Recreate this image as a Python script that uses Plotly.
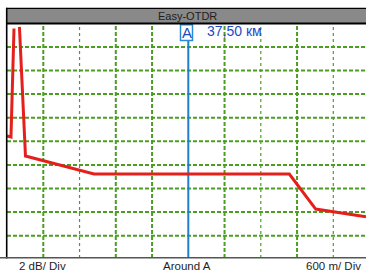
import plotly.graph_objects as go

# ---- data (OTDR trace) ----
title_text = "Easy-OTDR"
marker_name = "A"
marker_km = 37.50
marker_label = "37,50 км"
scale_y_label = "2 dB/ Div"
center_label = "Around A"
scale_x_label = "600 m/ Div"
db_per_div = 2.0
km_per_div = 0.6

trace_km = [34.499, 34.565, 34.615, None, 34.705, 34.805, 35.939, 39.172, 39.609, 40.441]
trace_db = [10.45, 10.36, 19.56, None, 19.7, 8.75, 7.23, 7.23, 4.26, 3.61]

# ---- layout helpers (pixel geometry) ----
W, H = 366, 272
L, R, T, B = 7, 0, 24, 14
pw, ph = W - L - R, H - T - B
div_px_x = 36.25
div_px_y = 23.6
x0_px = 7.05           # pixel of left division 0
ybase_px = 259.3       # pixel of 0 dB
left_div_km = marker_km - 5 * km_per_div

def px2km(px):
    return left_div_km + (px - x0_px) / div_px_x * km_per_div

def py2db(py):
    return (ybase_px - py) / div_px_y * db_per_div

def pxp(px):
    return (px - L) / pw

def pyp(py):
    return (H - B - py) / ph

green = "#4c9e22"
shapes = []
# horizontal grid
for k in range(1, 10):
    yv = k * db_per_div
    shapes.append(dict(type="line", xref="paper", yref="y", x0=0, x1=1, y0=yv, y1=yv,
                       line=dict(color=green, width=2, dash="4px,2px"), layer="below"))
# vertical grid
thin = {2, 7, 9}
for k in range(1, 10):
    if k == 5:
        continue
    xv = left_div_km + k * km_per_div
    shapes.append(dict(type="line", xref="x", yref="paper", x0=xv, x1=xv, y0=0, y1=1,
                       line=dict(color=green, width=1.2 if k in thin else 2,
                                 dash="3px,3px" if k in thin else "4px,2px"), layer="below"))

# marker line
shapes.append(dict(type="line", xref="x", yref="paper", x0=marker_km, x1=marker_km,
                   y0=pyp(257.7), y1=pyp(40), line=dict(color="#1f7fcf", width=2), layer="below"))
# marker label box
shapes.append(dict(type="rect", xref="paper", yref="paper", x0=pxp(180.5), x1=pxp(192.5),
                   y0=pyp(40.5), y1=pyp(24.8), line=dict(color="#2a8ad8", width=1.5),
                   fillcolor="white", layer="above"))

# frame: top bar
shapes.append(dict(type="rect", xref="paper", yref="paper", x0=pxp(7), x1=pxp(366),
                   y0=pyp(23), y1=pyp(8.5), line=dict(width=0), fillcolor="#898989", layer="above"))
shapes.append(dict(type="line", xref="paper", yref="paper", x0=pxp(6), x1=pxp(366),
                   y0=pyp(8.3), y1=pyp(8.3), line=dict(color="black", width=1.2), layer="above"))
shapes.append(dict(type="line", xref="paper", yref="paper", x0=pxp(6), x1=pxp(366),
                   y0=pyp(23.5), y1=pyp(23.5), line=dict(color="black", width=2), layer="above"))
# left border
shapes.append(dict(type="line", xref="paper", yref="paper", x0=pxp(6.7), x1=pxp(6.7),
                   y0=pyp(258.5), y1=pyp(7.8), line=dict(color="black", width=1.6), layer="above"))
# bottom line
shapes.append(dict(type="line", xref="paper", yref="paper", x0=pxp(0), x1=pxp(366),
                   y0=pyp(257.7), y1=pyp(257.7), line=dict(color="#555555", width=1.5), layer="above"))

fnt = "Liberation Sans, Arial, sans-serif"
ann = []
ann.append(dict(text=title_text, xref="paper", yref="paper", x=pxp(187), y=pyp(16),
                xanchor="center", yanchor="middle", showarrow=False,
                font=dict(family=fnt, size=11, color="#1e1e1e")))
ann.append(dict(text=marker_name, xref="paper", yref="paper", x=pxp(186.6), y=pyp(32.5),
                xanchor="center", yanchor="middle", showarrow=False,
                font=dict(family=fnt, size=15, color="#1d4fb8")))
ann.append(dict(text=marker_label, xref="paper", yref="paper", x=pxp(204.5), y=pyp(31),
                xanchor="left", yanchor="middle", showarrow=False,
                font=dict(family=fnt, size=14, color="#1f48c4")))
ann.append(dict(text=scale_y_label, xref="paper", yref="paper", x=pxp(16.5), y=pyp(265.5),
                xanchor="left", yanchor="middle", showarrow=False,
                font=dict(family=fnt, size=11.5, color="#1e1e1e")))
ann.append(dict(text=center_label, xref="paper", yref="paper", x=pxp(187), y=pyp(265.5),
                xanchor="center", yanchor="middle", showarrow=False,
                font=dict(family=fnt, size=11.5, color="#1e1e1e")))
ann.append(dict(text=scale_x_label, xref="paper", yref="paper", x=pxp(363), y=pyp(265.5),
                xanchor="right", yanchor="middle", showarrow=False,
                font=dict(family=fnt, size=11.5, color="#1e1e1e")))

fig = go.Figure()
fig.add_trace(go.Scatter(x=trace_km, y=trace_db, mode="lines",
                         line=dict(color="#e4201c", width=3), connectgaps=False,
                         hoverinfo="skip", showlegend=False))

fig.update_layout(
    width=W, height=H,
    margin=dict(l=L, r=R, t=T, b=B, pad=0),
    paper_bgcolor="white", plot_bgcolor="white",
    xaxis=dict(range=[px2km(L), px2km(W - R)], showgrid=False, zeroline=False,
               showticklabels=False, ticks="", fixedrange=True),
    yaxis=dict(range=[py2db(H - B), py2db(T)], showgrid=False, zeroline=False,
               showticklabels=False, ticks="", fixedrange=True),
    shapes=shapes, annotations=ann, showlegend=False,
)
fig.write_html("out.html", config={"displayModeBar": False},
               post_script="document.body.style.margin='0px';document.body.style.overflow='hidden';")
